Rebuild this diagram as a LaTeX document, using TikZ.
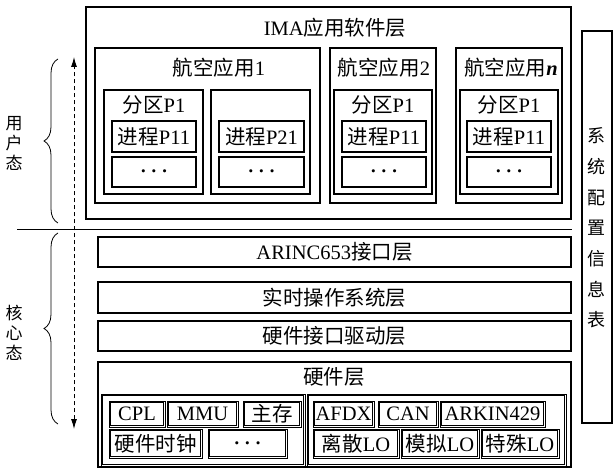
\documentclass[tikz,border=0pt]{standalone}
\usepackage{fontspec}
\setmainfont{Liberation Serif}
\newfontfamily\cjk{Noto Sans CJK SC}
\usetikzlibrary{arrows.meta,decorations.pathreplacing}
\newcommand\zh[1]{{\cjk #1}}
\newcommand\tdots{$\cdot\mkern-1mu\cdot\mkern-1mu\cdot$}
\newcommand\bx[7][]{\node[boxst,#1,minimum width={(#5-#3)*1pt},minimum height={(#6-#4)*1pt}] (#2) at ({(#3+#5)/2},{(#4+#6)/2}) {#7};}
\newcommand\dbx[7][]{\node[boxst,#1,minimum width={(#5-#3-3.2)*1pt},minimum height={(#6-#4-3.2)*1pt}] (#2) at ({(#3+#5)/2},{(#4+#6)/2}) {#7};
  \draw[outerline] ({#3},{#4}) rectangle ({#5},{#6});}
\tikzset{
  boxst/.style={draw=black,line width=1.1pt,inner sep=0pt,outer sep=0pt,rectangle},
  thick box/.style={line width=1.4pt},
  outerline/.style={line width=0.6pt},
  lbl/.style={inner sep=0pt,font=\fontsize{20.5}{24}\selectfont},
  vlbl/.style={inner sep=0pt,align=center,font=\fontsize{17}{20}\selectfont\cjk},
  dotsst/.style={font=\fontsize{20}{22}\selectfont\boldmath},
}
\begin{document}
\begin{tikzpicture}[x=1pt,y=-1pt,font=\fontsize{20.5}{24}\selectfont]
\useasboundingbox (0,0) rectangle (614,468);
% IMA application software layer
\bx[thick box]{ima}{86}{7}{571}{219}{}
\node[lbl] (tima) at (335,28) {IMA\zh{应用软件层}};
% application 1
\bx{app1}{95}{48}{320}{203}{}
\node[lbl] (tapp1) at (219,68) {\zh{航空应用}1};
\bx{p1a}{104}{90}{203}{194}{}
\node[lbl] (tp1a) at (154,105) {\zh{分区}P1};
\bx{pr1a}{112}{121}{196}{152}{\zh{进程}P11}
\bx[dotsst]{d1a}{112}{157}{196}{187}{\tdots}
\bx{p1b}{211}{90}{310}{194}{}
\bx{pr1b}{219}{121}{304}{152}{\zh{进程}P21}
\bx[dotsst]{d1b}{219}{157}{304}{187}{\tdots}
% application 2
\bx{app2}{330}{48}{436}{203}{}
\node[lbl] (tapp2) at (384,68) {\zh{航空应用}2};
\bx{p2}{334}{90}{432}{194}{}
\node[lbl] (tp2) at (383,105) {\zh{分区}P1};
\bx{pr2}{342}{121}{426}{152}{\zh{进程}P11}
\bx[dotsst]{d2}{342}{157}{426}{187}{\tdots}
% application n
\bx{appn}{456}{48}{562}{203}{}
\node[lbl] (tappn) at (511,68) {\zh{航空应用}\textbf{\textit{n}}};
\bx{pn}{460}{90}{558}{194}{}
\node[lbl] (tpn) at (509,105) {\zh{分区}P1};
\bx{prn}{467}{121}{551}{152}{\zh{进程}P11}
\bx[dotsst]{dn}{467}{157}{551}{187}{\tdots}
% system configuration table
\bx{cfg}{582}{31}{612}{423}{}
\node[inner sep=0pt,align=center,font=\fontsize{18}{30.7}\selectfont\cjk] (tcfg) at (596,228) {系\\统\\配\\置\\信\\息\\表};
% divider line
\coordinate (hl1) at (17,229);
\coordinate (hl2) at (572,229);
\draw[line width=0.9pt] (hl1) -- (hl2);
% kernel layers
\bx{arinc}{98}{237}{571}{267}{ARINC653\zh{接口层}}
\bx{rtos}{98}{282}{571}{313}{\zh{实时操作系统层}}
\bx{drv}{98}{321}{571}{351}{\zh{硬件接口驱动层}}
\bx{hw}{98}{362}{571}{467}{}
\node[lbl] (thw) at (334,377) {\zh{硬件层}};
% hardware groups
\dbx{hwl}{101}{394}{305}{466}{}
\dbx{cpl}{109}{401}{165}{427}{CPL}
\dbx{mmu}{167}{401}{238}{427}{MMU}
\dbx{mem}{243}{401}{301}{427}{\zh{主存}}
\dbx{clk}{109}{429}{202}{458}{\zh{硬件时钟}}
\dbx[dotsst]{hdots}{208}{429}{287}{458}{\tdots}
\dbx{hwr}{307}{394}{566}{466}{}
\dbx{afdx}{313}{401}{374}{427}{AFDX}
\dbx{can}{378}{401}{438}{427}{CAN}
\dbx{ark}{440}{401}{545}{427}{ARKIN429}
\dbx{disc}{313}{429}{399}{458}{\zh{离散}LO}
\dbx{anlg}{401}{429}{479}{458}{\zh{模拟}LO}
\dbx{spec}{481}{429}{559}{458}{\zh{特殊}LO}
% dashed double arrow
\coordinate (atop) at (74,57);
\coordinate (abot) at (74,429);
\draw[dashed,dash pattern=on 4pt off 3pt,line width=0.9pt,{Latex[length=10pt,width=6pt]}-{Latex[length=10pt,width=6pt]}] (abot) -- (atop);
% braces
\coordinate (b1s) at (58,223);
\coordinate (b1e) at (58,59);
\coordinate (b2s) at (58,424);
\coordinate (b2e) at (58,233);
\draw[line width=0.8pt,decorate,decoration={brace,amplitude=14pt}] (b1s) -- (b1e);
\draw[line width=0.8pt,decorate,decoration={brace,amplitude=14pt}] (b2s) -- (b2e);
\node[vlbl] (tuser) at (14,143) {用\\户\\态};
\node[vlbl] (tkern) at (14,333) {核\\心\\态};
\end{tikzpicture}
\end{document}
